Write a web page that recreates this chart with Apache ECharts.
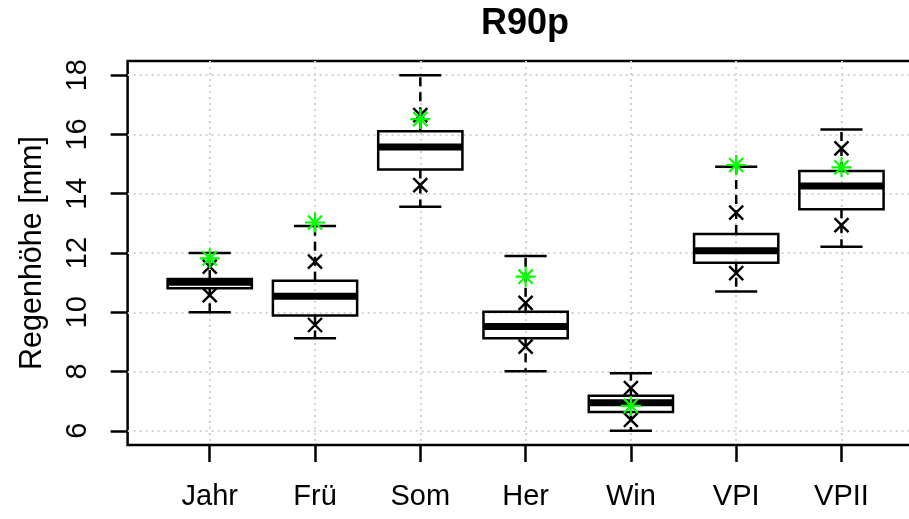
<!DOCTYPE html>
<html>
<head>
<meta charset="utf-8">
<script src="https://cdn.jsdelivr.net/npm/echarts@6/dist/echarts.min.js"></script>
<style>
  html, body { margin: 0; padding: 0; background: #fff; }
  #chart { width: 909px; height: 519px; }
</style>
</head>
<body>
<div id="chart"></div>
<script>
// ---- data ----
const categories  = ['Jahr', 'Frü', 'Som', 'Her', 'Win', 'VPI', 'VPII'];
const whiskerLow  = [10.00,  9.12, 13.56,  8.01, 6.00, 10.70, 12.21];
const q1          = [10.81,  9.89, 14.82,  9.12, 6.63, 11.67, 13.48];
const median      = [11.01, 10.54, 15.58,  9.52, 6.95, 12.08, 14.26];
const q3          = [11.12, 11.06, 16.11, 10.02, 7.18, 12.64, 14.77];
const whiskerHigh = [12.00, 12.91, 18.00, 11.90, 7.94, 14.91, 16.17];
const crossLow    = [10.58,  9.57, 14.29,  8.84, 6.37, 11.32, 12.94];
const crossHigh   = [11.54, 11.71, 16.65, 10.32, 7.44, 13.36, 15.53];
const greenStar   = [11.82, 13.03, 16.52, 11.20, 6.84, 14.97, 14.89];
const yTicks      = [6, 8, 10, 12, 14, 16, 18];
const xTicks      = categories.map((c, i) => i + 1);

// ---- build series data ----
const boxData = categories.map((c, i) => [i + 1, whiskerLow[i], q1[i], median[i], q3[i], whiskerHigh[i]]);
const crossData = [];
categories.forEach((c, i) => { crossData.push([i + 1, crossLow[i]]); crossData.push([i + 1, crossHigh[i]]); });
const starData = categories.map((c, i) => [i + 1, greenStar[i]]);

const FONT = 'Liberation Sans';
const BOXW = 0.8, STAPLEW = 0.4;

const chart = echarts.init(document.getElementById('chart'), null, { renderer: 'canvas' });

const option = {
  animation: false,
  backgroundColor: '#ffffff',
  title: {
    text: 'R90p',
    left: 481,
    top: 6,
    padding: 0,
    textStyle: { fontFamily: FONT, fontSize: 36, fontWeight: 'bold', color: '#000' }
  },
  grid: {
    left: 127.6, top: 61, bottom: 74, right: -14.6,
    outerBoundsMode: 'none',
    containLabel: false,
    show: true, borderColor: '#000', borderWidth: 2.5, backgroundColor: 'transparent'
  },
  xAxis: {
    type: 'value',
    min: 0.22, max: 7.78,
    axisLine: { show: false },
    axisTick: { show: true, customValues: xTicks, length: 17, lineStyle: { color: '#000', width: 2.5 } },
    axisLabel: {
      customValues: xTicks,
      margin: 37.5,
      fontFamily: FONT, fontSize: 29, color: '#000',
      formatter: v => categories[Math.round(v) - 1] || ''
    },
    splitLine: { show: true, lineStyle: { color: '#d3d3d3', width: 2, type: [2, 4] } }
  },
  yAxis: {
    type: 'value',
    min: 5.52, max: 18.48,
    name: 'Regenhöhe [mm]',
    nameLocation: 'middle',
    nameRotate: 90,
    nameGap: 80,
    nameTextStyle: { fontFamily: FONT, fontSize: 30.5, color: '#000' },
    axisLine: { show: false },
    axisTick: { show: true, customValues: yTicks, length: 17, lineStyle: { color: '#000', width: 2.5 } },
    axisLabel: {
      customValues: yTicks,
      rotate: 90,
      margin: 35,
      fontFamily: FONT, fontSize: 29, color: '#000'
    },
    splitLine: { show: true, lineStyle: { color: '#d3d3d3', width: 2, type: [2, 4] } }
  },
  series: [
    {
      type: 'custom',
      name: 'box',
      data: boxData,
      clip: false,
      renderItem: function (params, api) {
        const x = api.value(0);
        const lo = api.value(1), b1 = api.value(2), md = api.value(3), b3 = api.value(4), hi = api.value(5);
        const pLo = api.coord([x, lo]), pB1 = api.coord([x, b1]), pB3 = api.coord([x, b3]), pHi = api.coord([x, hi]);
        const pMd = api.coord([x, md]);
        const xl = api.coord([x - BOXW / 2, md])[0], xr = api.coord([x + BOXW / 2, md])[0];
        const sl = api.coord([x - STAPLEW / 2, md])[0], sr = api.coord([x + STAPLEW / 2, md])[0];
        const black = '#000';
        const dashed = { stroke: black, lineWidth: 2.5, lineDash: [9, 6], fill: null };
        const solid = { stroke: black, lineWidth: 2.5, fill: null };
        return {
          type: 'group',
          children: [
            { type: 'line', shape: { x1: pHi[0], y1: pB3[1], x2: pHi[0], y2: pHi[1] }, style: dashed },
            { type: 'line', shape: { x1: pLo[0], y1: pB1[1], x2: pLo[0], y2: pLo[1] }, style: dashed },
            { type: 'line', shape: { x1: sl, y1: pHi[1], x2: sr, y2: pHi[1] }, style: solid },
            { type: 'line', shape: { x1: sl, y1: pLo[1], x2: sr, y2: pLo[1] }, style: solid },
            { type: 'rect', shape: { x: xl, y: pB3[1], width: xr - xl, height: pB1[1] - pB3[1] }, style: solid },
            { type: 'line', shape: { x1: xl, y1: pMd[1], x2: xr, y2: pMd[1] }, style: { stroke: black, lineWidth: 7, fill: null } }
          ]
        };
      }
    },
    {
      type: 'scatter',
      name: 'cross',
      data: crossData,
      symbol: 'path://M0,0L10,10M10,0L0,10',
      symbolSize: 14,
      itemStyle: { color: 'rgba(0,0,0,0)', borderColor: '#000', borderWidth: 2.4, opacity: 1 },
      z: 3
    },
    {
      type: 'scatter',
      name: 'star',
      data: starData,
      symbol: 'path://M5,0L5,10M0,5L10,5M1.464,1.464L8.536,8.536M8.536,1.464L1.464,8.536',
      symbolSize: 20,
      itemStyle: { color: 'rgba(0,0,0,0)', borderColor: '#00ff00', borderWidth: 2.2, opacity: 1 },
      z: 4
    }
  ]
};
chart.setOption(option);
</script>
</body>
</html>
